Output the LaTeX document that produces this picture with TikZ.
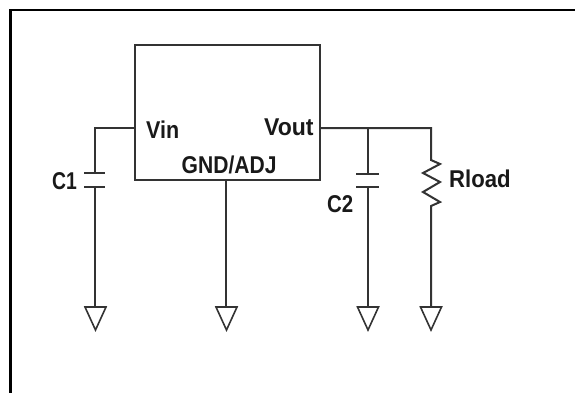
\documentclass[tikz,border=0pt]{standalone}
\usepackage{fontspec}
\setmainfont{Liberation Sans}
\newcommand{\tallrun}[2][1]{\scalebox{#1}[1.13]{#2}}
\tikzset{
  x=1pt,y=-1pt,
  wire/.style={draw=black!80,line width=2pt,line join=miter},
  gndsym/.style={draw=black!80,line width=1.6pt,line join=miter},
  lbl/.style={font=\bfseries\fontsize{21.5}{24}\selectfont,text=black!90,inner sep=0pt,anchor=base west}
}
\begin{document}
\begin{tikzpicture}
\useasboundingbox (0,0) rectangle (575,392);
\fill[white] (0,0) rectangle (575,392);
\draw[line width=2.4pt,black] (10.5,400) -- (10.5,10) -- (580,10);
% regulator block
\node[draw=black!80,line width=2pt,minimum width=185pt,minimum height=135pt,inner sep=0pt,outer sep=0pt,anchor=north west] (reg) at (135,45) {};
\coordinate (vinp) at (135,128);
\coordinate (voutp) at (320,128);
\coordinate (gndp) at (226,180);
\coordinate (c1c) at (95,128);
\coordinate (c1a) at (95,173);
\coordinate (c1b) at (95,187);
\coordinate (c1g) at (95,307);
\coordinate (g2) at (226,307);
\coordinate (c2t) at (368,128);
\coordinate (c2a) at (368,174);
\coordinate (c2b) at (368,187);
\coordinate (c2g) at (368,307);
\coordinate (rt) at (431,128);
\coordinate (rz) at (431,160);
\coordinate (rb) at (431,206);
\coordinate (rg) at (431,307);
\draw[wire] (vinp) -- (c1c) -- (c1a);
\draw[wire] (c1b) -- (c1g);
\draw[wire] (84,173) -- (105,173);
\draw[wire] (84,187) -- (105,187);
\draw[wire] (gndp) -- (g2);
\draw[wire] (voutp) -- (rt) -- (rz) -- (440,164) -- (423,173) -- (440,182) -- (423,192) -- (440,202) -- (rb) -- (rg);
\draw[wire] (c2t) -- (c2a);
\draw[wire] (c2b) -- (c2g);
\draw[wire] (356,174) -- (379,174);
\draw[wire] (356,187) -- (379,187);
\draw[gndsym] (85,307) -- (106,307) -- (95.5,330) -- cycle;
\draw[gndsym] (216,307) -- (237,307) -- (226.5,330) -- cycle;
\draw[gndsym] (357.5,307) -- (378.5,307) -- (368,330) -- cycle;
\draw[gndsym] (420.5,307) -- (441.5,307) -- (431,330) -- cycle;
\node[lbl] (vin) at (146,138) {\tallrun{Vin}};
\node[lbl] (vout) at (264,135) {\tallrun[1.07]{Vout}};
\node[lbl] (gnd) at (181.5,173) {\tallrun[0.98]{GND/ADJ}};
\node[lbl] (c1) at (52,189) {\tallrun[0.9]{C1}};
\node[lbl] (c2) at (327,212) {\tallrun[0.95]{C2}};
\node[lbl] (rload) at (449,187) {\tallrun[1.03]{Rload}};
\end{tikzpicture}
\end{document}
